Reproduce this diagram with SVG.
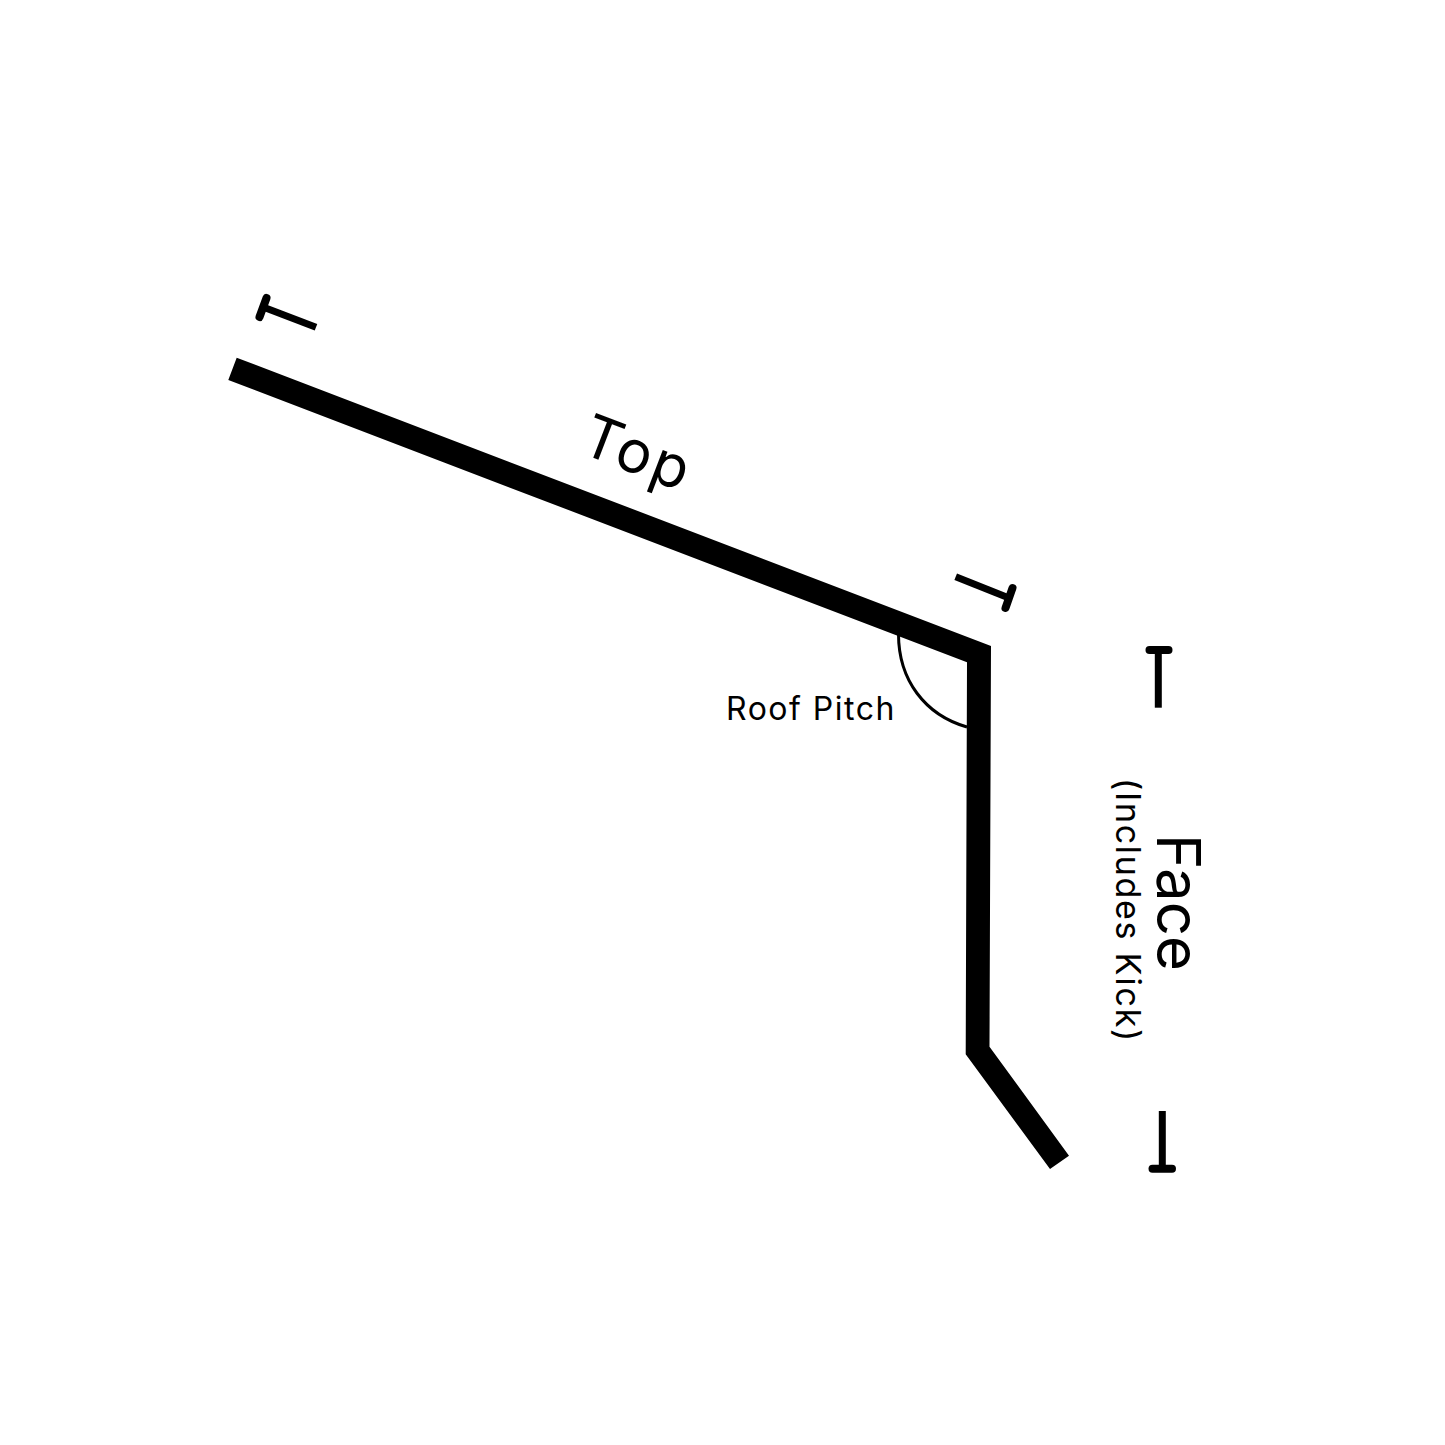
<svg xmlns="http://www.w3.org/2000/svg" width="1445" height="1445" viewBox="0 0 1445 1445">
<style>
text{font-family:"Inter","Open Sans",sans-serif;fill:#000}
.stem{fill:none;stroke:#000;stroke-width:7}
.bar{fill:none;stroke:#000;stroke-width:8;stroke-linecap:round}
</style>
<rect width="1445" height="1445" fill="#fff"/>
<g id="profile">
<path d="M228.300 380L236.700 357.700L991 646L989.500 1046.700L1069 1155.700L1050 1169L965.700 1054.300L967 662.300Z" fill="#000"/>
<path d="M898.500 634C898.500 680 925 715 967 727" fill="none" stroke="#000" stroke-width="3"/>
</g>
<g id="ticks">
<path class="stem" d="M263 307L316 327.300"/>
<path class="bar" d="M266.500 298L259.500 317"/>
<path class="stem" d="M955.700 576.700L1009 598"/>
<path class="bar" d="M1012.500 588L1005.500 608"/>
<path class="stem" d="M1158.300 650V707.700"/>
<path class="bar" d="M1149.500 650H1168.500"/>
<path class="stem" d="M1162.300 1168V1111"/>
<path class="bar" d="M1152.500 1168.700H1172"/>
</g>
<g id="labels">
<text font-size="59" letter-spacing="2.500" transform="translate(578 452) rotate(21)">Top</text>
<text font-size="32" letter-spacing="1.500" x="726" y="720">Roof Pitch</text>
<text font-size="60" transform="translate(1157 834) rotate(90)">Face</text>
<text font-size="34" letter-spacing="1.700" transform="translate(1116 778) rotate(90)">(Includes Kick)</text>
</g>
</svg>
